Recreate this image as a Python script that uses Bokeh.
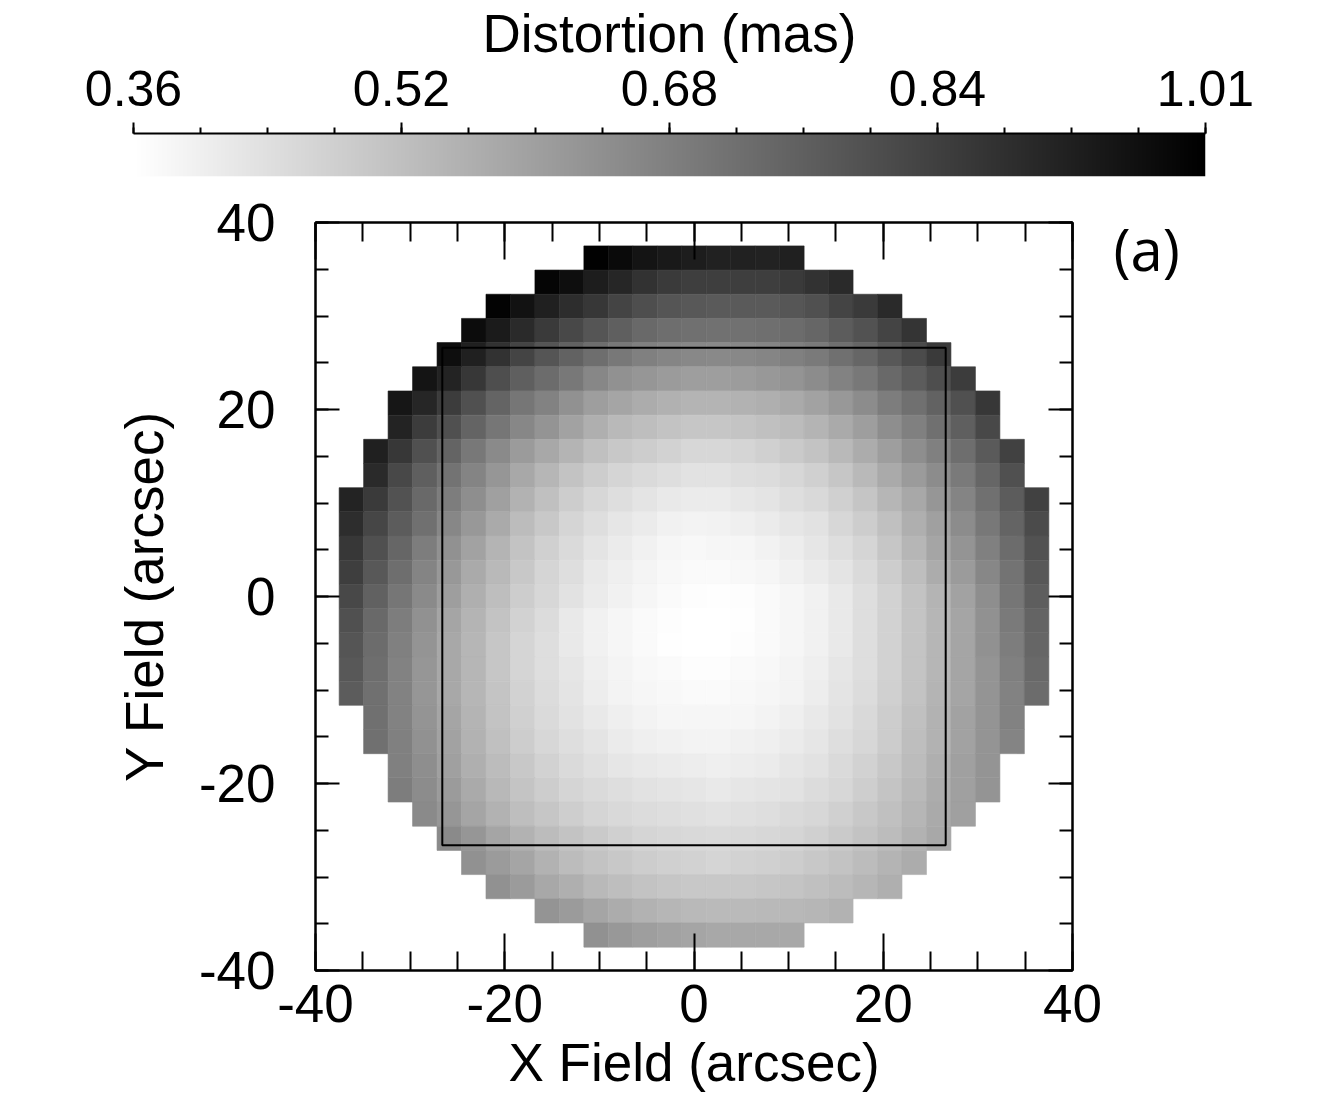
import numpy as np
from bokeh.plotting import figure
from bokeh.models import Range1d, LinearAxis, FixedTicker, LinearColorMapper, ColumnDataSource
from bokeh.palettes import Greys256
from bokeh.embed import file_html
from bokeh.resources import INLINE

# ---- data: distortion (mas) per field cell, rows from top (+Y) to bottom (-Y),
# each row lists the cells inside the circular field, left (-X) to right (+X)
distortion_rows = [
    [1.005, 0.984, 0.959, 0.944, 0.934, 0.926, 0.926, 0.923, 0.928],
    [0.997, 0.972, 0.934, 0.913, 0.883, 0.862, 0.852, 0.852, 0.852, 0.852, 0.862, 0.883, 0.903],
    [1.002, 0.964, 0.928, 0.895, 0.870, 0.837, 0.811, 0.793, 0.786, 0.781, 0.781, 0.781, 0.791, 0.806, 0.837, 0.862, 0.903],
    [0.979, 0.939, 0.903, 0.862, 0.826, 0.793, 0.768, 0.742, 0.730, 0.724, 0.722, 0.722, 0.727, 0.735, 0.750, 0.775, 0.801, 0.837, 0.877],
    [0.972, 0.928, 0.883, 0.837, 0.793, 0.760, 0.730, 0.704, 0.684, 0.671, 0.663, 0.661, 0.663, 0.671, 0.684, 0.699, 0.724, 0.750, 0.786, 0.819, 0.862],
    [0.959, 0.921, 0.870, 0.811, 0.768, 0.735, 0.704, 0.666, 0.640, 0.628, 0.615, 0.607, 0.607, 0.612, 0.622, 0.633, 0.653, 0.679, 0.704, 0.742, 0.775, 0.811, 0.857],
    [0.954, 0.913, 0.857, 0.806, 0.755, 0.709, 0.679, 0.640, 0.607, 0.589, 0.571, 0.559, 0.551, 0.551, 0.556, 0.564, 0.577, 0.597, 0.622, 0.653, 0.691, 0.724, 0.760, 0.806, 0.870],
    [0.921, 0.857, 0.806, 0.755, 0.709, 0.666, 0.633, 0.597, 0.564, 0.538, 0.526, 0.513, 0.505, 0.505, 0.510, 0.520, 0.531, 0.551, 0.577, 0.607, 0.648, 0.684, 0.724, 0.768, 0.826],
    [0.928, 0.870, 0.806, 0.755, 0.704, 0.658, 0.615, 0.582, 0.551, 0.520, 0.500, 0.487, 0.475, 0.464, 0.462, 0.469, 0.480, 0.495, 0.513, 0.538, 0.571, 0.607, 0.648, 0.684, 0.730, 0.781, 0.844],
    [0.903, 0.826, 0.768, 0.717, 0.673, 0.628, 0.582, 0.546, 0.513, 0.487, 0.469, 0.454, 0.444, 0.436, 0.436, 0.444, 0.449, 0.462, 0.480, 0.505, 0.538, 0.577, 0.615, 0.653, 0.699, 0.750, 0.806],
    [0.921, 0.862, 0.801, 0.742, 0.691, 0.648, 0.602, 0.556, 0.520, 0.487, 0.462, 0.444, 0.429, 0.418, 0.413, 0.413, 0.421, 0.429, 0.444, 0.457, 0.480, 0.508, 0.546, 0.582, 0.628, 0.673, 0.724, 0.775, 0.844],
    [0.895, 0.832, 0.775, 0.724, 0.666, 0.622, 0.577, 0.531, 0.500, 0.469, 0.444, 0.424, 0.411, 0.398, 0.393, 0.395, 0.401, 0.411, 0.424, 0.436, 0.462, 0.487, 0.520, 0.564, 0.602, 0.653, 0.704, 0.755, 0.819],
    [0.870, 0.806, 0.750, 0.691, 0.640, 0.597, 0.551, 0.513, 0.480, 0.454, 0.429, 0.411, 0.398, 0.385, 0.380, 0.383, 0.385, 0.395, 0.408, 0.424, 0.444, 0.469, 0.505, 0.546, 0.589, 0.633, 0.684, 0.735, 0.801],
    [0.852, 0.786, 0.730, 0.673, 0.622, 0.577, 0.538, 0.500, 0.469, 0.444, 0.418, 0.403, 0.388, 0.378, 0.373, 0.373, 0.378, 0.385, 0.398, 0.411, 0.429, 0.454, 0.487, 0.526, 0.571, 0.615, 0.666, 0.717, 0.786],
    [0.826, 0.763, 0.709, 0.658, 0.607, 0.564, 0.526, 0.487, 0.462, 0.436, 0.411, 0.398, 0.385, 0.373, 0.367, 0.365, 0.367, 0.373, 0.385, 0.398, 0.418, 0.444, 0.475, 0.513, 0.551, 0.597, 0.648, 0.709, 0.770],
    [0.806, 0.742, 0.691, 0.640, 0.589, 0.551, 0.513, 0.475, 0.449, 0.418, 0.398, 0.385, 0.373, 0.367, 0.362, 0.362, 0.365, 0.373, 0.383, 0.398, 0.418, 0.444, 0.475, 0.510, 0.546, 0.589, 0.640, 0.699, 0.755],
    [0.793, 0.735, 0.684, 0.633, 0.582, 0.546, 0.505, 0.469, 0.444, 0.418, 0.398, 0.383, 0.373, 0.365, 0.362, 0.362, 0.367, 0.373, 0.383, 0.398, 0.418, 0.444, 0.475, 0.510, 0.546, 0.589, 0.640, 0.691, 0.750],
    [0.786, 0.730, 0.679, 0.628, 0.582, 0.546, 0.505, 0.469, 0.444, 0.424, 0.403, 0.388, 0.378, 0.373, 0.367, 0.367, 0.373, 0.378, 0.388, 0.403, 0.424, 0.444, 0.475, 0.510, 0.546, 0.589, 0.633, 0.684, 0.742],
    [0.775, 0.724, 0.679, 0.628, 0.582, 0.546, 0.510, 0.475, 0.449, 0.429, 0.408, 0.393, 0.383, 0.378, 0.373, 0.373, 0.378, 0.383, 0.393, 0.408, 0.429, 0.449, 0.480, 0.513, 0.551, 0.589, 0.633, 0.679, 0.735],
    [0.724, 0.679, 0.633, 0.589, 0.551, 0.513, 0.480, 0.454, 0.434, 0.418, 0.403, 0.393, 0.385, 0.383, 0.383, 0.385, 0.393, 0.403, 0.418, 0.434, 0.459, 0.487, 0.520, 0.556, 0.597, 0.633, 0.679],
    [0.724, 0.684, 0.640, 0.597, 0.556, 0.520, 0.487, 0.464, 0.444, 0.429, 0.413, 0.403, 0.398, 0.393, 0.393, 0.398, 0.403, 0.413, 0.424, 0.444, 0.464, 0.490, 0.526, 0.556, 0.597, 0.633, 0.673],
    [0.684, 0.648, 0.602, 0.564, 0.531, 0.500, 0.475, 0.454, 0.439, 0.424, 0.418, 0.411, 0.406, 0.403, 0.408, 0.413, 0.424, 0.434, 0.454, 0.475, 0.500, 0.531, 0.564, 0.602, 0.633],
    [0.691, 0.653, 0.615, 0.577, 0.541, 0.510, 0.487, 0.469, 0.454, 0.444, 0.434, 0.429, 0.424, 0.418, 0.424, 0.429, 0.436, 0.449, 0.464, 0.485, 0.510, 0.538, 0.571, 0.602, 0.633],
    [0.658, 0.628, 0.589, 0.556, 0.526, 0.505, 0.485, 0.469, 0.459, 0.449, 0.444, 0.439, 0.436, 0.439, 0.444, 0.454, 0.464, 0.480, 0.500, 0.520, 0.546, 0.577, 0.602],
    [0.658, 0.628, 0.589, 0.556, 0.531, 0.513, 0.495, 0.480, 0.469, 0.462, 0.459, 0.454, 0.459, 0.464, 0.469, 0.480, 0.495, 0.513, 0.531, 0.556, 0.582],
    [0.640, 0.615, 0.589, 0.556, 0.531, 0.513, 0.500, 0.487, 0.480, 0.475, 0.469, 0.475, 0.480, 0.487, 0.500, 0.513, 0.531, 0.551, 0.571],
    [0.640, 0.615, 0.582, 0.564, 0.538, 0.526, 0.513, 0.505, 0.500, 0.500, 0.500, 0.505, 0.510, 0.520, 0.531, 0.546, 0.564],
    [0.633, 0.615, 0.589, 0.571, 0.556, 0.546, 0.538, 0.536, 0.536, 0.538, 0.541, 0.546, 0.556],
    [0.640, 0.622, 0.607, 0.597, 0.589, 0.582, 0.582, 0.582, 0.582],
]

grid_n = 29              # cells across the field
field_half = 37.5        # arcsec, half width of the sampled field
box_half = 26.6          # arcsec, half width of the inner square
cb_low, cb_high = 0.36, 1.01
cb_tick_values = [0.36, 0.5225, 0.685, 0.8475, 1.01]
cb_tick_labels = ["0.36", "0.52", "0.68", "0.84", "1.01"]
axis_ticks = [-40, -20, 0, 20, 40]
axis_tick_labels = ["-40", "-20", "0", "20", "40"]
axis_minor = list(range(-40, 41, 5))
panel_tag = "(a)"
panel_tag_y = 37.2

FONT = "Liberation Sans"

# ---- build cell table
cell = 2 * field_half / grid_n
xs, ys, vs = [], [], []
for r, row in enumerate(distortion_rows):
    start = (grid_n - len(row)) // 2
    for k, v in enumerate(row):
        c = start + k
        xs.append(-field_half + (c + 0.5) * cell)
        ys.append(field_half - (r + 0.5) * cell)
        vs.append(v)
src = ColumnDataSource(dict(x=xs, y=ys, v=vs))

mapper = LinearColorMapper(palette=list(Greys256)[::-1], low=cb_low, high=cb_high)

# ---- colour bar figure
cb = figure(width=1340, height=190, x_range=Range1d(cb_low, cb_high), y_range=Range1d(0, 1),
            output_backend="svg", toolbar_location=None, x_axis_location="above",
            y_axis_location=None, min_border_left=133, min_border_right=135,
            min_border_top=133, min_border_bottom=14)
cb.outline_line_color = None
cb.grid.visible = False
grad = np.linspace(cb_low, cb_high, 512).reshape(1, -1)
cb.image(image=[grad], x=cb_low, y=0, dw=cb_high - cb_low, dh=1, color_mapper=mapper)
cax = cb.xaxis[0]
cax.ticker = FixedTicker(ticks=cb_tick_values,
                         minor_ticks=[round(cb_low + k * (cb_high - cb_low) / 16, 6) for k in range(17)])
cax.major_label_overrides = dict(zip(cb_tick_values, cb_tick_labels))
cax.axis_label = "Distortion (mas)"
cax.axis_label_text_font = FONT
cax.axis_label_text_font_size = "53px"
cax.axis_label_text_font_style = "normal"
cax.axis_label_text_color = "black"
cax.axis_label_standoff = 5
cax.major_label_text_font = FONT
cax.major_label_text_font_size = "50px"
cax.major_label_text_color = "black"
cax.major_label_standoff = 17
cax.major_tick_out = 11
cax.major_tick_in = 0
cax.minor_tick_out = 6
cax.minor_tick_in = 0
cax.axis_line_width = 2
cax.major_tick_line_width = 2
cax.minor_tick_line_width = 2

# ---- main figure
p = figure(width=1340, height=915, x_range=Range1d(-40, 40), y_range=Range1d(-40, 40),
           output_backend="svg", toolbar_location=None,
           min_border_left=315, min_border_right=268, min_border_top=32, min_border_bottom=135)
p.grid.visible = False
p.outline_line_color = "black"
p.outline_line_width = 2

p.rect(x="x", y="y", width=cell, height=cell, source=src,
       fill_color={"field": "v", "transform": mapper},
       line_color={"field": "v", "transform": mapper}, line_width=0.6)
p.rect(x=[0], y=[0], width=[2 * box_half], height=[2 * box_half],
       fill_color=None, line_color="black", line_width=2)

xt = FixedTicker(ticks=axis_ticks, minor_ticks=axis_minor)
yt = FixedTicker(ticks=axis_ticks, minor_ticks=axis_minor)
tick_text = dict(zip(axis_ticks, axis_tick_labels))
blank_text = {t: "" for t in axis_ticks}

def style(ax, major_in, minor_in, show_labels):
    ax.major_tick_in = major_in
    ax.major_tick_out = 0
    ax.minor_tick_in = minor_in
    ax.minor_tick_out = 0
    ax.axis_line_width = 2
    ax.major_tick_line_width = 2
    ax.minor_tick_line_width = 2
    ax.major_label_text_font = FONT
    ax.major_label_text_font_size = "53px" if show_labels else "0px"
    ax.major_label_text_color = "black"
    ax.major_label_overrides = tick_text if show_labels else blank_text
    ax.axis_label_text_font = FONT
    ax.axis_label_text_font_size = "53px"
    ax.axis_label_text_font_style = "normal"
    ax.axis_label_text_color = "black"

bx = p.xaxis[0]
bx.ticker = xt
style(bx, 37, 19, True)
bx.major_label_standoff = 14
bx.axis_label = "X Field (arcsec)"
bx.axis_label_standoff = 8

ly = p.yaxis[0]
ly.ticker = yt
style(ly, 24, 13, True)
ly.major_label_standoff = 40
ly.axis_label = "Y Field (arcsec)"
ly.axis_label_standoff = 22

tx = LinearAxis(ticker=xt)
style(tx, 37, 19, False)
tx.major_label_standoff = 0
p.add_layout(tx, "above")
ry = LinearAxis(ticker=yt)
style(ry, 24, 13, False)
ry.major_label_standoff = 0
p.add_layout(ry, "right")

# panel tag "(a)" written as the only label of a bare right-hand axis
ra = LinearAxis(ticker=FixedTicker(ticks=[panel_tag_y], minor_ticks=[]),
                major_label_overrides={panel_tag_y: panel_tag})
ra.axis_line_color = None
ra.major_tick_line_color = None
ra.minor_tick_line_color = None
ra.major_tick_in = 0
ra.major_tick_out = 0
ra.major_label_text_font = "Open Sans"
ra.major_label_text_font_size = "58px"
ra.major_label_text_color = "black"
ra.major_label_standoff = 41
p.add_layout(ra, "right")

open("out.html", "w").write(file_html([cb, p], INLINE))
